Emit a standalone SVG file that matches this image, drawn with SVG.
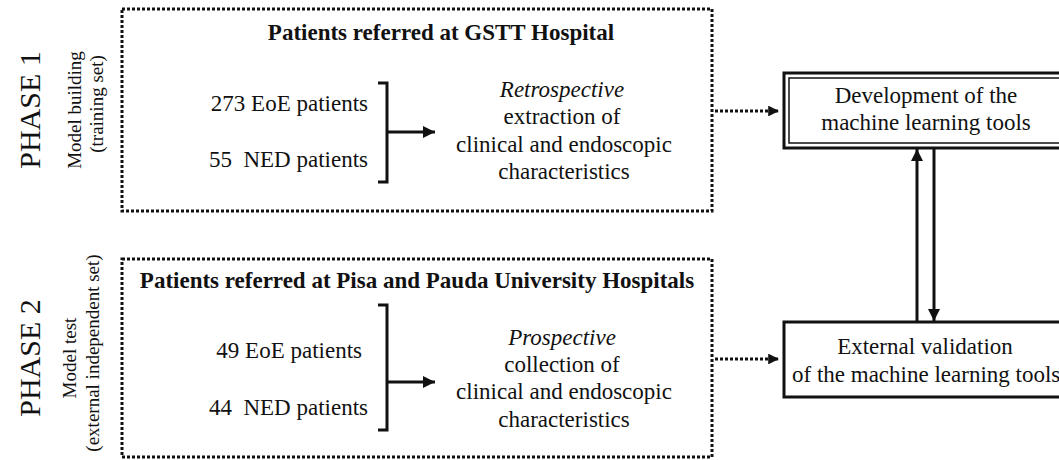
<svg xmlns="http://www.w3.org/2000/svg" width="1059" height="460" viewBox="0 0 1059 460">
<style>
text{font-family:"Liberation Serif","Times New Roman",serif;fill:#111;}
.t{font-size:23px;}
.b{font-size:23px;font-weight:bold;}
.i{font-style:italic;}
.m{text-anchor:middle;}
.e{text-anchor:end;}
.ph{font-size:30px;}
.s{font-size:19px;}
.dot{fill:none;stroke:#111;stroke-width:3;stroke-dasharray:3 2;}
.ln{fill:none;stroke:#111;stroke-width:3;}
.thin{fill:none;stroke:#111;stroke-width:1.5;}
</style>
<defs>
<marker id="ah" viewBox="0 0 10 10" refX="10" refY="5" markerWidth="4" markerHeight="4" orient="auto" markerUnits="strokeWidth">
<path d="M0,0 L10,5 L0,10 z" fill="#111"/>
</marker>
<marker id="ahs" viewBox="0 0 10 10" refX="10" refY="5" markerWidth="3.6" markerHeight="3.6" orient="auto" markerUnits="strokeWidth">
<path d="M0,0 L10,5 L0,10 z" fill="#111"/>
</marker>
</defs>

<g id="labels">
<text class="ph m" transform="translate(40,110) rotate(-90)">PHASE 1</text>
<text class="s m" transform="translate(81,110) rotate(-90)">Model building</text>
<text class="s m" transform="translate(103,104) rotate(-90)">(training set)</text>
<text class="ph m" transform="translate(40,358) rotate(-90)">PHASE 2</text>
<text class="s m" transform="translate(76,358) rotate(-90)">Model test</text>
<text class="s m" transform="translate(99,353) rotate(-90)">(external independent set)</text>
</g>

<g id="phase1">
<rect class="dot" x="122" y="9" width="590" height="202"/>
<text class="b m" x="441" y="40">Patients referred at GSTT Hospital</text>
<text class="t e" x="368" y="111">273 EoE patients</text>
<text class="t e" x="368" y="167" xml:space="preserve">55  NED patients</text>
<text class="t m i" x="562" y="97">Retrospective</text>
<text class="t m" x="562" y="124">extraction of</text>
<text class="t m" x="564" y="152">clinical and endoscopic</text>
<text class="t m" x="564" y="179">characteristics</text>
</g>

<g id="phase2">
<rect class="dot" x="122" y="259" width="590" height="198"/>
<text class="b m" x="417" y="288">Patients referred at Pisa and Pauda University Hospitals</text>
<text class="t e" x="362" y="358">49 EoE patients</text>
<text class="t e" x="368" y="415" xml:space="preserve">44  NED patients</text>
<text class="t m i" x="562" y="345">Prospective</text>
<text class="t m" x="562" y="372">collection of</text>
<text class="t m" x="564" y="399">clinical and endoscopic</text>
<text class="t m" x="564" y="427">characteristics</text>
</g>

<g id="dev">
<rect class="ln" x="784" y="73" width="290" height="75"/>
<rect class="thin" x="789" y="78" width="280" height="65"/>
<text class="t m" x="926" y="103">Development of the</text>
<text class="t m" x="926" y="130">machine learning tools</text>
</g>

<g id="ext">
<rect class="ln" x="784" y="322" width="290" height="75"/>
<text class="t m" x="925" y="354">External validation</text>
<text class="t" x="792" y="382">of the machine learning tools</text>
</g>

<g id="connectors">
<path class="ln" d="M378,83 H387 V182 H378"/>
<path class="ln" d="M387,132 H435" marker-end="url(#ah)"/>
<path class="ln" d="M378,305 H387 V430 H378"/>
<path class="ln" d="M387,382 H435" marker-end="url(#ah)"/>
<path class="dot" d="M715,111 H779" marker-end="url(#ahs)"/>
<path class="dot" d="M715,359 H779" marker-end="url(#ahs)"/>
<path class="ln" d="M917,322 V149" marker-end="url(#ah)"/>
<path class="ln" d="M934,149 V321" marker-end="url(#ah)"/>
</g>
</svg>
